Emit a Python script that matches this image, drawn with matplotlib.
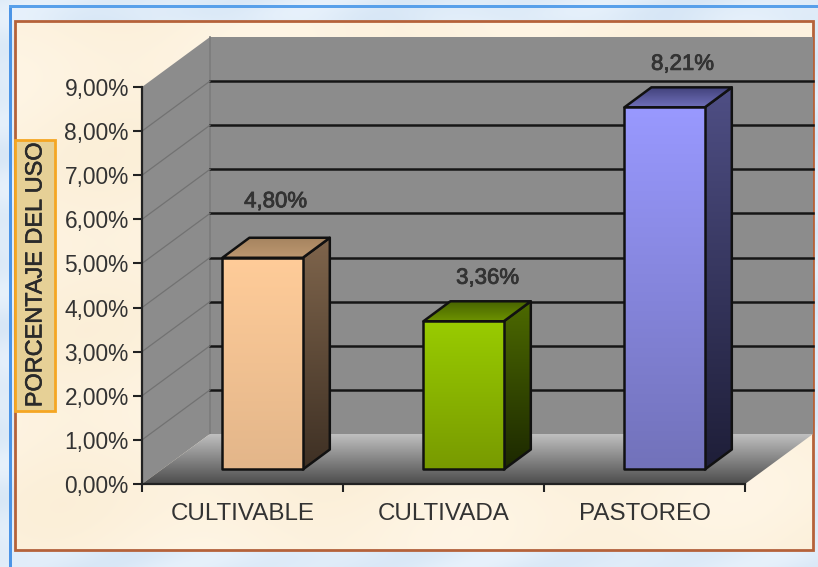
import numpy as np
import matplotlib
matplotlib.use("Agg")
import matplotlib.pyplot as plt
import matplotlib.patheffects as pe
from matplotlib.patches import Polygon, Rectangle

categorias = ["CULTIVABLE", "CULTIVADA", "PASTOREO"]
valores = [4.80, 3.36, 8.21]
etiquetas = ["4,80%", "3,36%", "8,21%"]
ticks_y = [0, 1, 2, 3, 4, 5, 6, 7, 8, 9]
ticks_y_txt = ["0,00%", "1,00%", "2,00%", "3,00%", "4,00%", "5,00%", "6,00%", "7,00%", "8,00%", "9,00%"]
titulo_y = "PORCENTAJE DEL USO"

# colores de cada barra: frente, lado y tapa (arriba, abajo)
col_frente = [("#ffcc99", "#e3b68a"), ("#99cc00", "#789a00"), ("#9999ff", "#7272ba")]
col_lado = [("#7f654c", "#3e3024"), ("#4d6a00", "#1c2800"), ("#4f4f85", "#1e1e38")]
col_tapa = [("#a5835f", "#bd9870"), ("#456000", "#6d9200"), ("#3f3f78", "#6f6fb8")]
# desplazamiento de las etiquetas en px respecto a la tapa
off_etiq = [(13, 56), (24, 43), (18, 43)]

W, H = 818, 567
plt.rcParams["font.family"] = ["Liberation Sans", "DejaVu Sans"]
fig = plt.figure(figsize=(W / 100, H / 100), dpi=100)


def mezcla(c1, c2, n=128):
    a = np.array(matplotlib.colors.to_rgb(c1))
    b = np.array(matplotlib.colors.to_rgb(c2))
    t = np.linspace(0, 1, n)[:, None, None]
    return a[None, None, :] * (1 - t) + b[None, None, :] * t


def degradado(ax, verts, arriba, abajo, z, borde=None, lw=1.8):
    """Rellena un poligono con degradado vertical."""
    verts = np.array(verts)
    x0, x1 = verts[:, 0].min(), verts[:, 0].max()
    y0, y1 = verts[:, 1].min(), verts[:, 1].max()
    im = ax.imshow(mezcla(arriba, abajo), extent=(x0, x1, y0, y1), origin="upper",
                   aspect="auto", zorder=z, interpolation="bilinear")
    pol = Polygon(verts, closed=True, facecolor="none", edgecolor=borde or "none",
                  linewidth=lw, zorder=z + 0.1, joinstyle="round", clip_on=False)
    ax.add_patch(pol)
    im.set_clip_box(fig.bbox)
    im.set_clip_path(pol)


# fondo de la pagina en pixeles
bg = fig.add_axes([0, 0, 1, 1])
bg.set_xlim(0, W)
bg.set_ylim(H, 0)
bg.axis("off")
yy, xx = np.mgrid[0:H, 0:W]
ondas = (np.sin(xx / 23.0 + np.sin(yy / 9.0)) + np.sin(yy / 14.0 + xx / 41.0)) / 2
azul = np.dstack([0.875 + 0.03 * ondas, 0.925 + 0.02 * ondas, 0.975 + 0.01 * ondas])
bg.imshow(azul, extent=(0, W, H, 0), aspect="auto", zorder=0)
crema = np.sin(xx / 70.0 + yy / 50.0) * np.sin(yy / 60.0 - xx / 110.0)
tex = np.dstack([0.992 + 0.006 * crema, 0.949 + 0.012 * crema, 0.872 + 0.025 * crema])
im_crema = bg.imshow(np.clip(tex, 0, 1), extent=(0, W, H, 0), aspect="auto", zorder=1)
marco = Rectangle((14.5, 20.5), 798, 529, facecolor="none", edgecolor="#b5623a", linewidth=2, zorder=3)
bg.add_patch(marco)
im_crema.set_clip_path(marco)
bg.set_xlim(0, W)
bg.set_ylim(H, 0)
bg.add_patch(Rectangle((9, 5), 3, H, facecolor="#4b94e6", edgecolor="none", zorder=2))
bg.add_patch(Rectangle((9, 5), W, 2.5, facecolor="#58a0ea", edgecolor="none", zorder=2))
bg.add_patch(Rectangle((15, 140), 40, 271, facecolor="#e6d096", edgecolor="#f5a623", linewidth=2, zorder=4))
bg.text(35, 275, titulo_y, rotation=90, ha="center", va="center", fontsize=16.9, color="#2a2a2a", zorder=5,
        path_effects=[pe.withStroke(linewidth=0.4, foreground="#2a2a2a")])

# ejes sobre el plano frontal del grafico
ax = fig.add_axes([142 / W, 1 - 484 / H, 603 / W, 397 / H])
ax.patch.set_alpha(0)
n = len(categorias)
ax.set_xlim(0, n)
ax.set_ylim(0, 9)

DX = 68 / 201
DY = 50 / 44.1

# paredes y suelo
ax.add_patch(Polygon([(0, 0), (DX, DY), (DX, 9 + DY), (0, 9)], closed=True, facecolor="#8c8c8c",
                     edgecolor="none", zorder=1, clip_on=False))
ax.add_patch(Rectangle((DX, DY), n, 9, facecolor="#8c8c8c", edgecolor="none", zorder=1, clip_on=False))
ax.plot([DX, DX], [DY, 9 + DY], color="#7c7c7c", lw=1.2, zorder=1.5, clip_on=False)
for v in ticks_y[1:]:
    if v < 9:
        ax.plot([DX, n + DX], [v + DY, v + DY], color="#161616", lw=1.8, zorder=2, clip_on=False)
        ax.plot([0, DX], [v, v + DY], color="#727272", lw=0.9, zorder=2, clip_on=False)
degradado(ax, [(0, 0), (DX, DY), (n + DX, DY), (n, 0)], "#c2c2c2", "#4c4c4c", 3)

# barras
ANCHO = 0.4
PX = 27 / 201
PY = 20 / 44.1
BASE = 14.5 / 44.1
for i, v in enumerate(valores):
    x0 = i + 0.4
    x1 = x0 + ANCHO
    y0 = BASE
    y1 = BASE + v
    degradado(ax, [(x1, y0), (x1 + PX, y0 + PY), (x1 + PX, y1 + PY), (x1, y1)],
              col_lado[i][0], col_lado[i][1], 5, "#111111")
    degradado(ax, [(x0, y1), (x0 + PX, y1 + PY), (x1 + PX, y1 + PY), (x1, y1)],
              col_tapa[i][0], col_tapa[i][1], 5.2, "#111111")
    degradado(ax, [(x0, y0), (x1, y0), (x1, y1), (x0, y1)],
              col_frente[i][0], col_frente[i][1], 5.4, "#111111")
    ax.annotate(etiquetas[i], xy=((x0 + x1) / 2, y1), xytext=off_etiq[i], textcoords="offset pixels",
                ha="center", va="center", fontsize=16, color="#333333", zorder=8, annotation_clip=False,
                path_effects=[pe.withStroke(linewidth=0.6, foreground="#333333")])

ax.set_xlim(0, n)
ax.set_ylim(0, 9)
ax.set_yticks(ticks_y)
ax.set_yticklabels(ticks_y_txt, fontsize=16.4, color="#333333")
ax.set_xticks(range(n + 1))
ax.set_xticklabels([""] * (n + 1))
ax.set_xticks(np.arange(n) + 0.5, minor=True)
ax.set_xticklabels(categorias, minor=True, fontsize=17.4, color="#333333")
ax.tick_params(axis="y", length=6.5, width=1.5, pad=3, color="#222222")
ax.tick_params(axis="x", which="major", length=6, width=1.5, color="#222222")
ax.tick_params(axis="x", which="minor", length=0, pad=14)
for lado in ["top", "right"]:
    ax.spines[lado].set_visible(False)
for lado in ["left", "bottom"]:
    ax.spines[lado].set_linewidth(1.6)
    ax.spines[lado].set_color("#222222")
    ax.spines[lado].set_zorder(6)

fig.savefig("out.png", dpi=100)
